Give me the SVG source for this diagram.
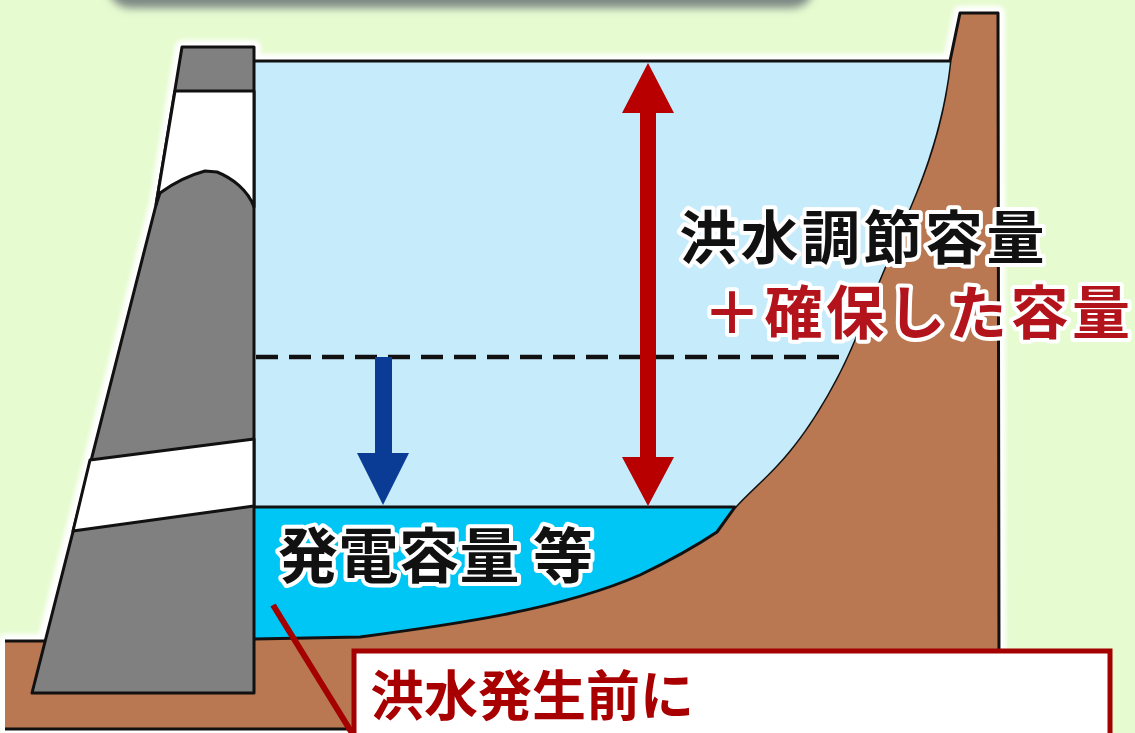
<svg xmlns="http://www.w3.org/2000/svg" width="1135" height="733" viewBox="0 0 1135 733">
  <defs>
    <filter id="soft" x="-10%" y="-200%" width="120%" height="500%">
      <feGaussianBlur stdDeviation="4"/>
    </filter>
    <filter id="glow" x="-5%" y="-5%" width="110%" height="110%">
      <feGaussianBlur stdDeviation="2"/>
    </filter>
    <style>
      .ln { fill: none; stroke: #111; stroke-width: 3; stroke-linejoin: round; }
      .gray { fill: #808080; stroke: #111; stroke-width: 3; stroke-linejoin: round; }
      .white { fill: #ffffff; stroke: #111; stroke-width: 3; stroke-linejoin: round; }
      .lbl { font-family: "Noto Sans CJK JP", "Noto Sans", sans-serif; font-weight: 700;
             stroke: #ffffff; stroke-width: 8; stroke-linejoin: round; paint-order: stroke; }
      .blk { fill: #111; }
      .red { fill: #b3131a; }
    </style>
  </defs>

  <!-- background -->
  <rect x="0" y="0" width="1135" height="733" fill="#e6fbd0"/>

  <!-- shadow under the title banner -->
  <rect x="108" y="-50" width="706" height="58" rx="22" fill="#7b8884" filter="url(#soft)"/>

  <!-- white halo round the scene -->
  <path d="M5,641 L44,641 L156,205 L182,47 L254,47 L254,61 L950,61 L960,13 L998,13 L999,729 L5,729 Z"
        fill="#ffffff" stroke="#ffffff" stroke-width="14" stroke-linejoin="round" filter="url(#glow)"/>

  <!-- ground and hillside -->
  <g id="hill">
    <path d="M5,641 L360,637 C450,625 560,610 640,575 C665,563 690,550 717,532 L735,507 C750,490 770,475 790,450 C815,420 842,372 857,333 L913,200 C930,160 945,110 950,61 L960,13 L998,13 L999,729 L5,729 Z"
          fill="#b97752"/>
    <path class="ln" d="M735,507 C750,490 770,475 790,450 C815,420 842,372 857,333 L913,200 C930,160 945,110 950,61 L960,13 L998,13 L999,652"/>
    <path class="ln" d="M5,641 L46,641"/>
    <path class="ln" d="M5,729 L356,729"/>
  </g>

  <!-- reservoir: flood-control volume -->
  <g id="reservoir-upper">
    <path d="M254,61 L950,61 C945,110 930,160 913,200 L857,333 C842,372 815,420 790,450 C770,475 750,490 735,507 L254,507 Z"
          fill="#c6ecfc"/>
    <path class="ln" d="M254,61 L950,61"/>
  </g>

  <!-- reservoir: power-generation volume -->
  <g id="reservoir-lower">
    <path d="M254,507 L735,507 L717,532 C690,550 665,563 640,575 C560,610 450,625 360,637 L254,639 Z"
          fill="#00c6f5"/>
    <path class="ln" d="M254,507 L735,507 L717,532 C690,550 665,563 640,575 C560,610 450,625 360,637 L254,639"/>
  </g>

  <!-- lowered water level -->
  <g id="level-line">
    <path d="M256,357 L848,357" fill="none" stroke="#111" stroke-width="4.5" stroke-dasharray="22 11"/>
  </g>

  <!-- dam body -->
  <g id="dam">
    <path class="gray" d="M182,47 L254,47 L254,693 L32,693 L156,205 Z"/>
    <path class="white" d="M175,91 L254,91 L254,207 C248,190 232,178 217,172 L205,171 C190,175 175,182 160,193 L156,205 Z"/>
    <path class="white" d="M90,460 L254,439 L254,506 L73,531 Z"/>
  </g>

  <!-- arrows -->
  <g id="connectors">
    <path d="M375,357 L392,357 L392,453 L409,453 L383,505 L357,453 L375,453 Z" fill="#0a3c96"/>
    <path d="M648,63 L674,113 L656,113 L656,457 L674,457 L648,506 L622,457 L640,457 L640,113 L622,113 Z" fill="#b80000"/>
    <path d="M273,605 L352,733" fill="none" stroke="#a50000" stroke-width="6"/>
  </g>

  <!-- labels -->
  <g id="label-flood">
    <text class="lbl blk" font-size="58" letter-spacing="3.5"><tspan x="679" y="259">洪水調節容量</tspan><tspan class="red" x="703" y="334">＋確保した容量</tspan></text>
  </g>
  <g id="label-power">
    <text class="lbl blk" x="278" y="578" font-size="60" letter-spacing="0.5">発電容量<tspan x="533">等</tspan></text>
  </g>

  <!-- callout -->
  <g id="callout">
    <rect x="354" y="651" width="756" height="120" fill="#ffffff" stroke="#a50000" stroke-width="5"/>
    <text x="370" y="716" font-family="Noto Sans CJK JP, Noto Sans, sans-serif" font-weight="700" font-size="54" fill="#a80000">洪水発生前に</text>
  </g>
</svg>
